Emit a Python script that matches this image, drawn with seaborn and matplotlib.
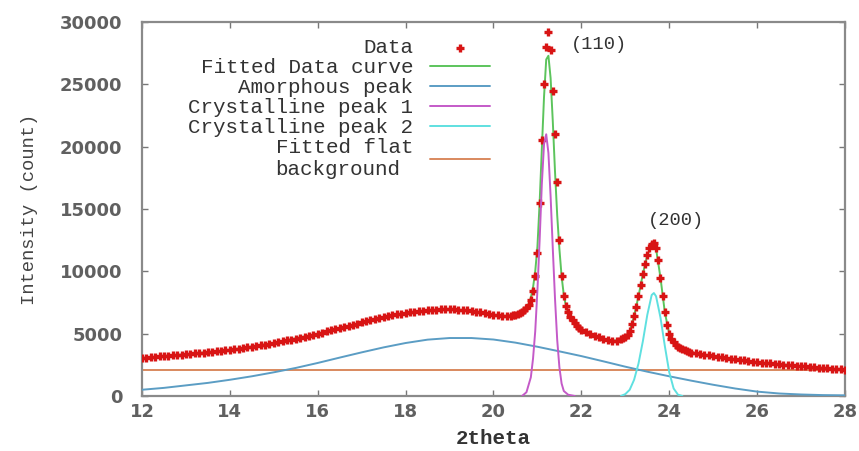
import matplotlib
matplotlib.use("Agg")
import matplotlib.pyplot as plt
import numpy as np
import pandas as pd
import seaborn as sns

data_left = [3050, 3080, 3110, 3140, 3170, 3200, 3230, 3260, 3290, 3320,
             3350, 3380, 3410, 3440, 3470, 3500, 3540, 3580, 3620, 3650,
             3690, 3740, 3790, 3840, 3890, 3950, 4010, 4070, 4130, 4190,
             4250, 4320, 4390, 4460, 4530, 4600, 4680, 4760, 4840, 4920,
             5000, 5090, 5180, 5270, 5360, 5450, 5540, 5630, 5720, 5810,
             5900, 5990, 6080, 6170, 6260, 6350, 6420, 6490, 6550, 6600,
             6650, 6700, 6750, 6800, 6840, 6880, 6900, 6920, 6940, 6950,
             6950, 6940, 6920, 6890, 6860, 6820, 6770, 6710, 6650, 6580,
             6500, 6460, 6430, 6420, 6450]  # 12.0 .. 20.4, step 0.1
data_peak110 = [6480, 6520, 6580, 6650, 6750, 6880, 7050, 7300, 7700, 8400,
                9600, 11500, 15500, 20500, 25000, 28000, 29200, 27800, 24500, 21000,
                17200, 12500, 9600, 8000, 7200, 6700, 6350, 6100, 5850, 5650,
                5450, 5300]  # 20.45 .. 22.0, step 0.05
data_valley = [5150, 5000, 4850, 4700, 4580, 4480, 4420, 4450, 4600]  # 22.1 .. 22.9
data_peak200 = [4650, 4750, 4900, 5200, 5750, 6400, 7100, 8000, 8900, 9800,
                10600, 11300, 11900, 12200, 12270, 11900, 10900, 9500, 8000, 6700,
                5700, 5000, 4600, 4300, 4100, 3950, 3850, 3750, 3680, 3600,
                3530, 3470]  # 22.95 .. 24.5, step 0.05
data_right = [3420, 3360, 3310, 3250, 3200,
              3150, 3100, 3050, 3000, 2950, 2900, 2850, 2800, 2750, 2700,
              2670, 2640, 2610, 2580, 2550, 2520, 2490, 2460, 2430, 2400,
              2370, 2340, 2310, 2280, 2250, 2220, 2190, 2160, 2130, 2100]  # 24.6 .. 28.0

fit_x = [12, 13, 14, 15, 16, 17, 18, 18.5, 19, 19.5, 20, 20.3, 20.5, 20.6, 20.7, 20.8,
         20.85, 20.9, 20.95, 21.0, 21.05, 21.1, 21.15, 21.2, 21.25, 21.3, 21.35, 21.4,
         21.45, 21.5, 21.55, 21.6, 21.65, 21.7, 21.8, 21.9, 22.0, 22.2, 22.4, 22.6, 22.8,
         22.9, 23.0, 23.1, 23.2, 23.3, 23.4, 23.5, 23.6, 23.65, 23.7, 23.8, 23.9, 24.0,
         24.1, 24.2, 24.4, 24.6, 25, 26, 27, 28]
fit_y = [3050, 3350, 3690, 4250, 5000, 5900, 6650, 6880, 6950, 6820, 6500, 6420, 6520,
         6650, 6900, 7400, 7900, 8700, 10000, 12000, 15500, 19800, 24000, 27000, 27300,
         25500, 22000, 18000, 14500, 11800, 9600, 8100, 7200, 6700, 6100, 5650, 5300,
         5000, 4700, 4480, 4450, 4600, 4750, 5200, 6400, 8000, 9800, 11300, 12100, 12150,
         11800, 9500, 6700, 5000, 4300, 3950, 3600, 3420, 3200, 2700, 2400, 2100]

amor_x = [12, 12.5, 13, 13.5, 14, 14.5, 15, 15.5, 16, 16.5, 17, 17.5, 18, 18.5, 19, 19.5,
          20, 20.5, 21, 21.5, 22, 22.5, 23, 23.5, 24, 24.5, 25, 25.5, 26, 26.5, 27, 27.5, 28]
amor_y = [500, 650, 850, 1050, 1300, 1580, 1900, 2250, 2650, 3080, 3500, 3900, 4250, 4520,
          4650, 4650, 4530, 4280, 3950, 3580, 3200, 2780, 2350, 1950, 1580, 1230, 900,
          600, 350, 200, 120, 70, 50]

cryst1_x = [20.65, 20.75, 20.85, 20.9, 20.95, 21.0, 21.05, 21.1, 21.15, 21.2, 21.25, 21.3,
            21.35, 21.4, 21.45, 21.5, 21.55, 21.6, 21.7, 21.85]
cryst1_y = [0, 300, 1500, 3000, 5200, 8500, 12500, 17000, 20200, 21000, 19500, 16000,
            11800, 7800, 4500, 2300, 1000, 400, 100, 0]

cryst2_x = [22.9, 23.0, 23.1, 23.2, 23.3, 23.4, 23.5, 23.6, 23.65, 23.7, 23.8, 23.9, 24.0,
            24.1, 24.2, 24.3]
cryst2_y = [0, 150, 500, 1300, 2600, 4400, 6500, 8100, 8260, 8000, 6300, 4000, 1900, 600,
            100, 0]

flat_x = [12, 28]
flat_y = [2100, 2100]


def grid(start, step, n):
    return np.round(start + step * np.arange(n), 3)


blocks = [(12.0, 0.1, data_left), (20.45, 0.05, data_peak110), (22.1, 0.1, data_valley),
          (22.95, 0.05, data_peak200), (24.6, 0.1, data_right)]
df = pd.concat([pd.DataFrame({"two_theta": grid(s, d, len(v)), "intensity": v})
                for s, d, v in blocks], ignore_index=True)

sns.set_style("ticks")
mono = ["Liberation Mono", "DejaVu Sans Mono"]
grey = "#606060"

fig = plt.figure(figsize=(8.59, 4.51), dpi=100)
ax = fig.add_axes([0.1653, 0.122, 0.8184, 0.829])

sns.scatterplot(data=df, x="two_theta", y="intensity", marker="+", s=36, linewidth=2.4,
                color="#d81414", ax=ax, label="Data", zorder=5)
sns.lineplot(x=fit_x, y=fit_y, color="#5cc45c", lw=1.4, ax=ax, sort=False,
             label="Fitted Data curve", zorder=4)
sns.lineplot(x=amor_x, y=amor_y, color="#5b9dc4", lw=1.4, ax=ax, sort=False,
             label="Amorphous peak", zorder=3)
sns.lineplot(x=cryst1_x, y=cryst1_y, color="#c45ac8", lw=1.4, ax=ax, sort=False,
             label="Crystalline peak 1", zorder=6)
sns.lineplot(x=cryst2_x, y=cryst2_y, color="#5fe0e0", lw=1.4, ax=ax, sort=False,
             label="Crystalline peak 2", zorder=3)
sns.lineplot(x=flat_x, y=flat_y, color="#d9895e", lw=1.4, ax=ax, sort=False,
             label="Fitted flat\nbackground", zorder=2)

# peak labels, anchored to the highest point of each peak block
for name, start, vals in [("(110)", 20.45, data_peak110), ("(200)", 22.95, data_peak200)]:
    i = int(np.argmax(vals))
    px = start + 0.05 * i
    off = (16, -15) if name == "(110)" else (-4, 10)
    ax.annotate(name, xy=(px, vals[i]), xytext=off, textcoords="offset points",
                ha="left", va="bottom", family=mono, fontsize=13.5, color="#333333")

ax.set_xlim(12, 28)
ax.set_ylim(0, 30000)
ax.set_xticks(np.arange(12, 29, 2))
ax.set_yticks(np.arange(0, 30001, 5000))
ax.tick_params(direction="in", top=True, right=True, length=4, width=1, color="#777777",
               labelsize=13, labelcolor=grey)
ax.tick_params(axis="y", pad=14)
ax.tick_params(axis="x", pad=5)
for lab in ax.get_xticklabels() + ax.get_yticklabels():
    lab.set_fontweight("bold")
for sp in ax.spines.values():
    sp.set_color("#8a8a8a")
    sp.set_linewidth(1.6)

ax.set_xlabel("2theta", family=mono, fontsize=15, fontweight="bold", color="#333333",
              labelpad=6)
ax.set_ylabel("Intensity (count)", family=mono, fontsize=13.5, color="#444444",
              labelpad=16)

leg = ax.legend(loc="upper right", bbox_to_anchor=(0.51, 0.985), frameon=False,
                markerfirst=False, borderpad=0, handlelength=2.9, handletextpad=0.8,
                labelspacing=0.05, scatterpoints=1, prop={"family": mono, "size": 15})
for t in leg.get_texts():
    t.set_color("#333333")

fig.savefig("out.png", dpi=100)
